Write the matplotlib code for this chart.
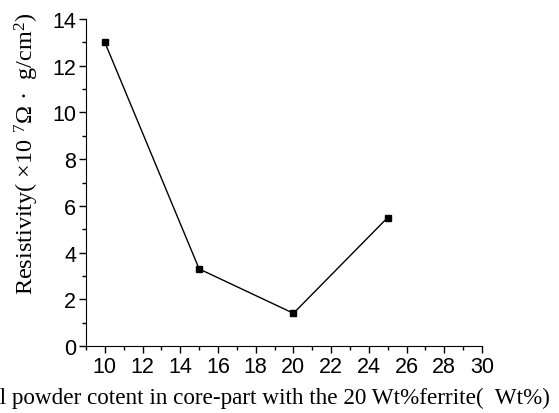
import matplotlib
matplotlib.use("Agg")
import matplotlib.pyplot as plt
from matplotlib.ticker import MultipleLocator

plt.rcParams["mathtext.fontset"] = "custom"
plt.rcParams["mathtext.rm"] = "Liberation Serif"
plt.rcParams["mathtext.it"] = "Liberation Serif:italic"
plt.rcParams["mathtext.default"] = "rm"

# data
content = [10, 15, 20, 25]
resistivity = [13.0, 3.3, 1.4, 5.5]

fig = plt.figure(figsize=(5.59, 4.14), dpi=100)
ax = fig.add_axes([86 / 559, 1 - 347 / 414, (482 - 86) / 559, (347 - 20) / 414])

ax.plot(content, resistivity, color="black", lw=1.0, marker="s", ms=4.5,
        markerfacecolor="black", markeredgecolor="black")

ax.set_xlim(9, 30)
ax.set_ylim(0, 14)
ax.xaxis.set_major_locator(MultipleLocator(2))
ax.xaxis.set_minor_locator(MultipleLocator(1))
ax.yaxis.set_major_locator(MultipleLocator(2))
ax.yaxis.set_minor_locator(MultipleLocator(1))
ax.spines["top"].set_visible(False)
ax.spines["right"].set_visible(False)
ax.tick_params(which="major", direction="out", length=5, width=1,
               labelsize=15.5, pad=2)
ax.tick_params(which="minor", direction="out", length=3, width=1)
for lab in ax.get_xticklabels() + ax.get_yticklabels():
    lab.set_family("Liberation Sans")

ax.set_ylabel("Resistivity( \u00d710 $^7$\u03a9 \u00b7  g/cm$^2$)",
              family="Liberation Serif", fontsize=17.5)
ax.yaxis.set_label_coords(-0.113, 0.59)
# the reference image is cropped on the left, so the label runs off the edge
fig.text(550 / 559, 1 - 398 / 414,
         "Metal powder cotent in core-part with the 20 Wt%ferrite(  Wt%)",
         ha="right", va="center", family="Liberation Serif", fontsize=16.7)

fig.savefig("out.png", dpi=100)
